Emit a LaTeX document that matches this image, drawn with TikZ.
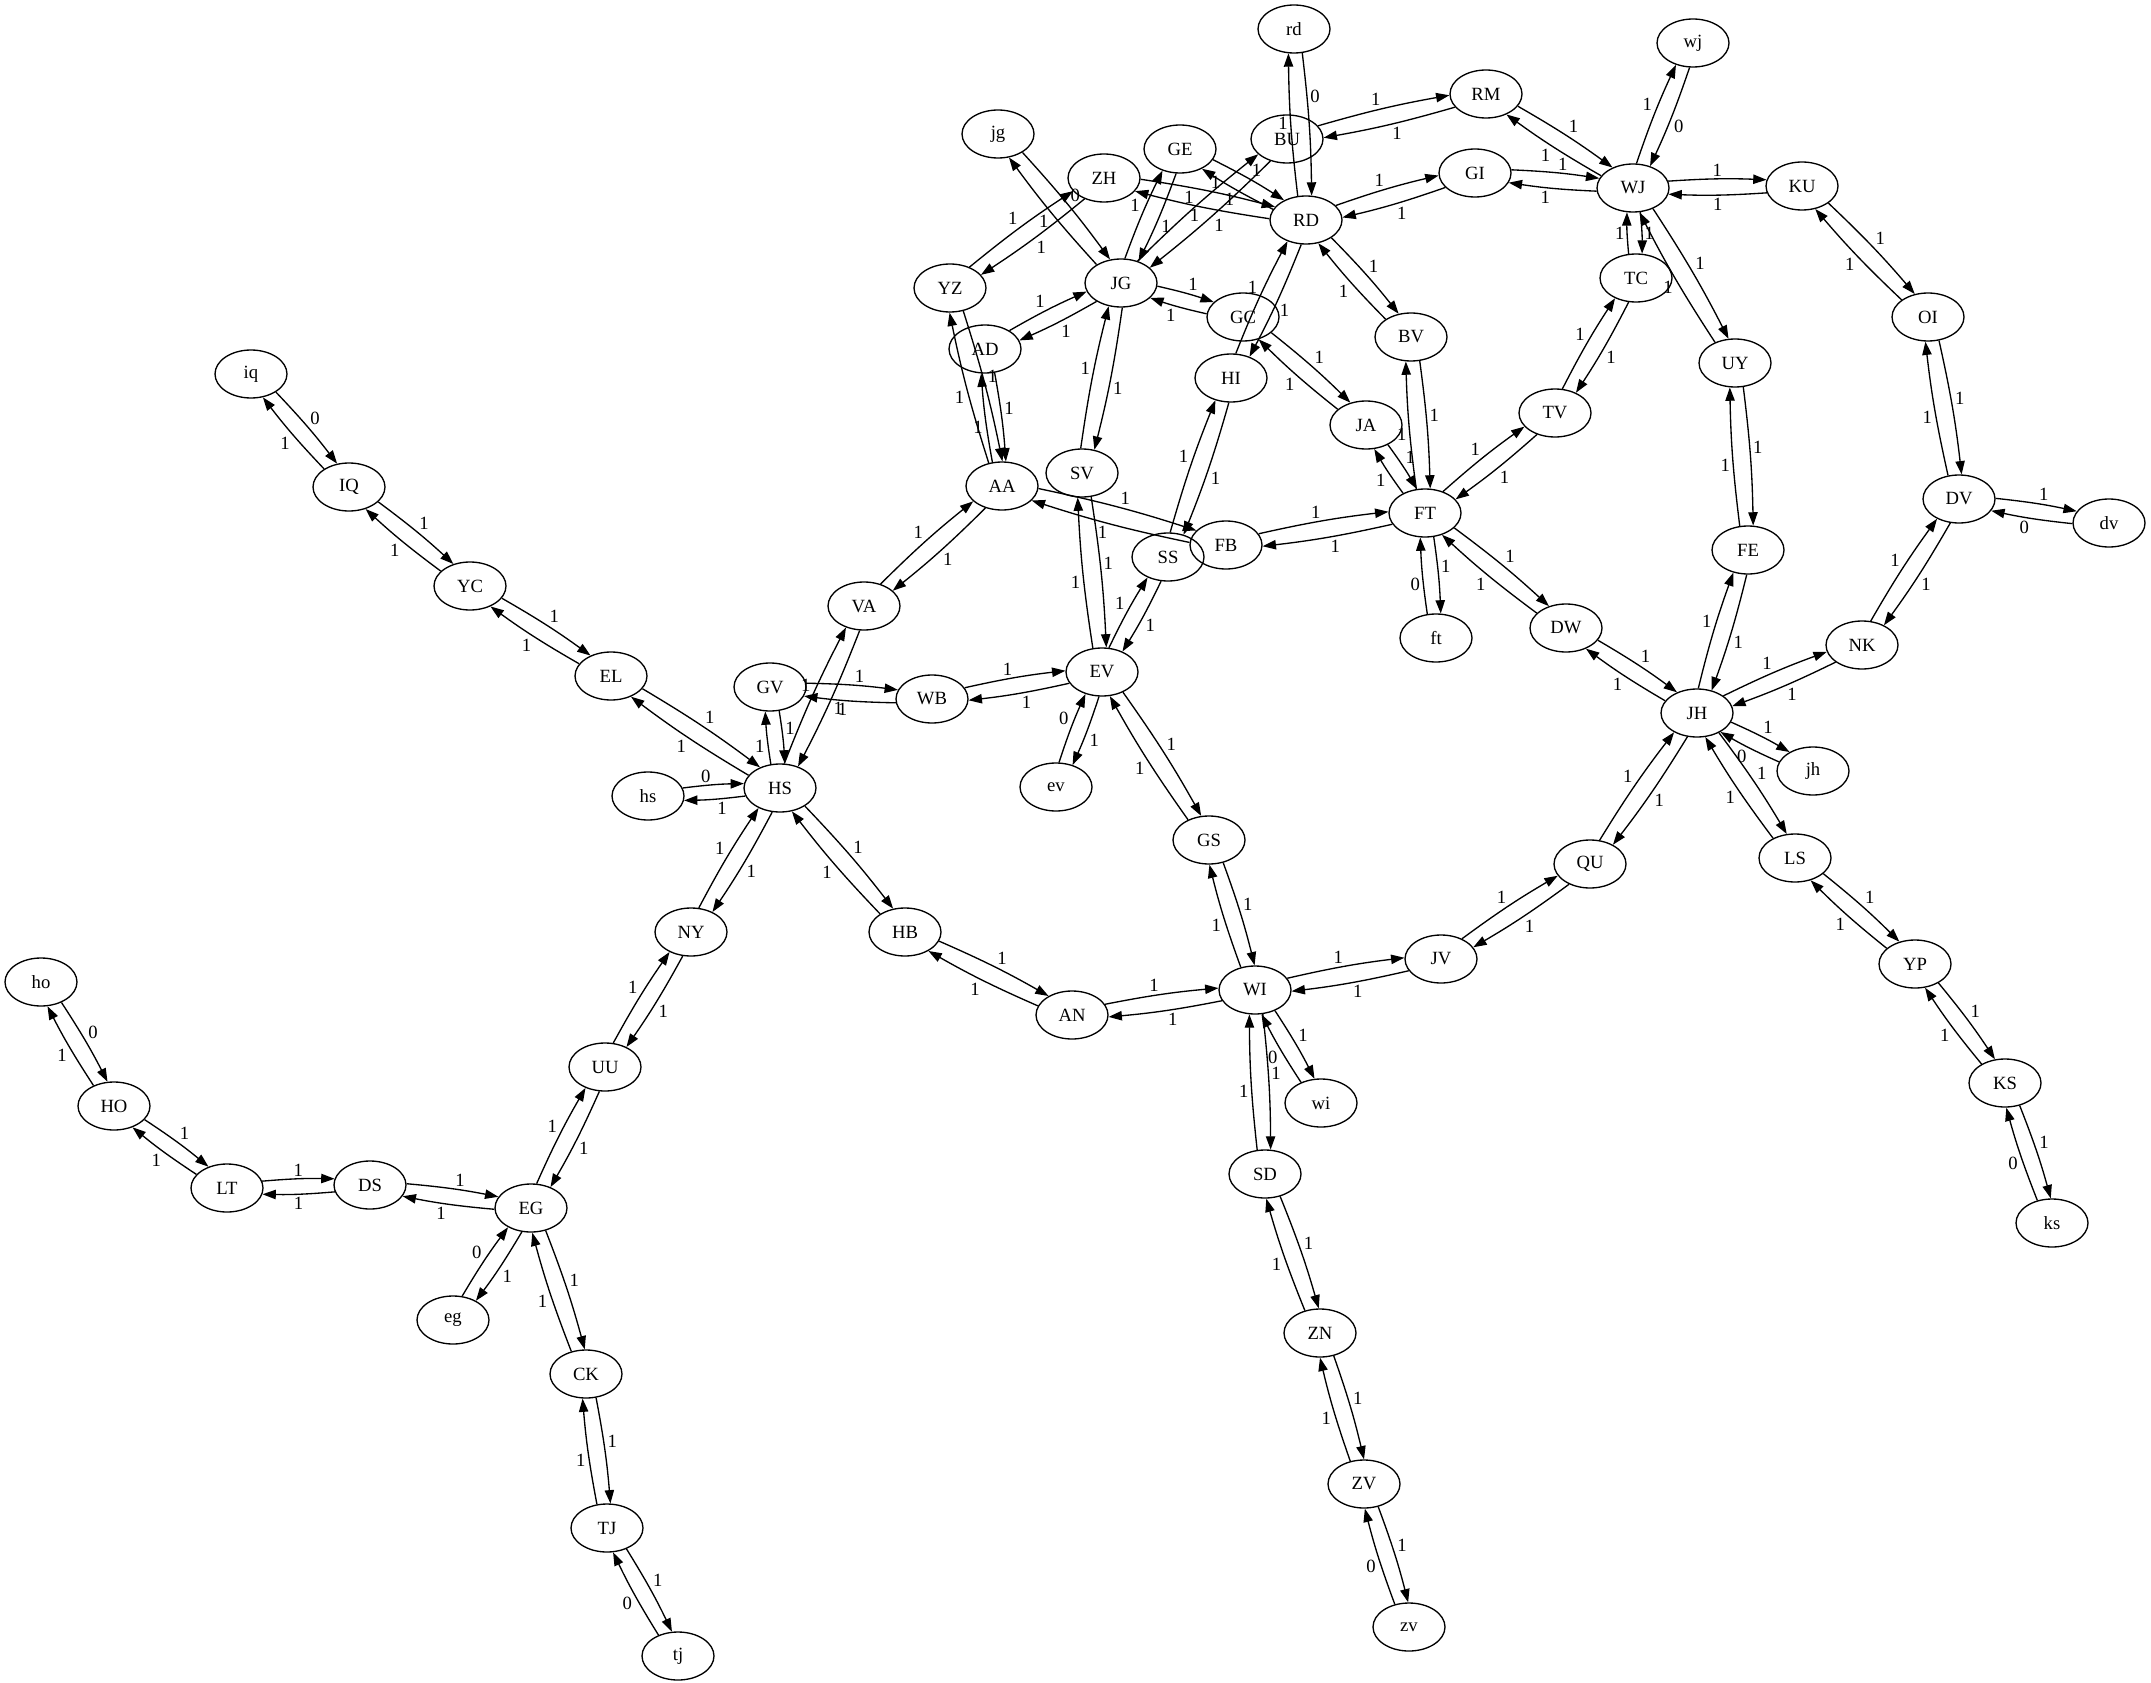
\documentclass[tikz,border=0pt]{standalone}
\usepackage{fontspec}
\setmainfont{Liberation Serif}
\usetikzlibrary{shapes.geometric,arrows.meta}
\newcommand\gvfont{\fontsize{14pt}{16pt}\selectfont}
\newcommand\nd[3]{%
  \node[vx] (#1) at (#2,-#3) {#1};%
  \expandafter\xdef\csname PX@#1\endcsname{#2}%
  \expandafter\xdef\csname PY@#1\endcsname{#3}%
}
\newcommand\de[4][0.5]{%
  \pgfmathsetmacro\eDX{\csname PX@#3\endcsname-\csname PX@#2\endcsname}%
  \pgfmathsetmacro\eDY{\csname PY@#2\endcsname-\csname PY@#3\endcsname}%
  \pgfmathsetmacro\eAng{atan2(\eDY,\eDX)}%
  \pgfmathsetmacro\eRad{864/sqrt((24*cos(\eAng))^2+(36*sin(\eAng))^2)}%
  \pgfmathsetmacro\ePhi{asin(6.5/\eRad)}%
  \pgfmathtruncatemacro\eSa{mod(\eAng+\ePhi+720,360)}%
  \pgfmathtruncatemacro\eEa{mod(\eAng+180-\ePhi+720,360)}%
  \draw[conn] (#2.\eSa) to[bend left=3] node[lbl,pos=#1]{#4} (#3.\eEa);%
}
\newcommand\epair[2]{\de{#1}{#2}{1}\de{#2}{#1}{1}}
\newcommand\elow[2]{\de{#1}{#2}{1}\de{#2}{#1}{0}}
\tikzset{
  vx/.style={draw, ellipse, minimum width=54pt, minimum height=36pt, inner sep=0pt, line width=1pt, font=\gvfont},
  conn/.style={line width=1pt, -{Triangle[length=10pt,width=7pt]}},
  lbl/.style={auto, inner sep=1.5pt, font=\gvfont},
}
\begin{document}
\begin{tikzpicture}[x=0.75pt,y=0.75pt]
\useasboundingbox (0,0) rectangle (2151,-1683);
\nd{rd}{1294}{29}
\nd{BU}{1287}{139}
\nd{jg}{998}{134}
\nd{GE}{1180}{149}
\nd{ZH}{1104}{178}
\nd{RD}{1306}{220}
\nd{YZ}{950}{288}
\nd{JG}{1121}{283}
\nd{GC}{1243}{317}
\nd{AD}{985}{349}
\nd{HI}{1231}{378}
\nd{BV}{1411}{337}
\nd{RM}{1486}{94}
\nd{wj}{1693}{43}
\nd{GI}{1475}{173}
\nd{WJ}{1633}{188}
\nd{TC}{1636}{278}
\nd{UY}{1735}{363}
\nd{TV}{1555}{413}
\nd{KU}{1802}{186}
\nd{OI}{1928}{317}
\nd{DV}{1959}{499}
\nd{dv}{2109}{523}
\nd{FE}{1748}{550}
\nd{NK}{1862}{645}
\nd{SV}{1082}{473}
\nd{AA}{1002}{486}
\nd{FB}{1226}{545}
\nd{SS}{1168}{557}
\nd{JA}{1366}{425}
\nd{FT}{1425}{513}
\nd{ft}{1436}{638}
\nd{DW}{1566}{628}
\nd{JH}{1697}{713}
\nd{jh}{1813}{771}
\nd{WB}{932}{699}
\nd{EV}{1102}{672}
\nd{ev}{1056}{787}
\nd{VA}{864}{606}
\nd{EL}{611}{676}
\nd{GV}{770}{687}
\nd{HS}{780}{788}
\nd{hs}{648}{796}
\nd{NY}{691}{932}
\nd{HB}{905}{932}
\nd{iq}{251}{374}
\nd{IQ}{349}{487}
\nd{YC}{470}{586}
\nd{ho}{41}{982}
\nd{HO}{114}{1106}
\nd{LT}{227}{1188}
\nd{DS}{370}{1185}
\nd{EG}{531}{1208}
\nd{UU}{605}{1067}
\nd{eg}{453}{1320}
\nd{GS}{1209}{840}
\nd{WI}{1255}{990}
\nd{JV}{1441}{959}
\nd{QU}{1590}{864}
\nd{LS}{1795}{858}
\nd{wi}{1321}{1103}
\nd{SD}{1265}{1174}
\nd{AN}{1072}{1015}
\nd{CK}{586}{1374}
\nd{TJ}{607}{1528}
\nd{tj}{678}{1656}
\nd{ZN}{1320}{1333}
\nd{ZV}{1364}{1484}
\nd{zv}{1409}{1627}
\nd{YP}{1915}{964}
\nd{KS}{2005}{1083}
\nd{ks}{2052}{1223}
% edges
\de[0.58]{RD}{rd}{1}
\de[0.36]{rd}{RD}{0}
\epair{BU}{RM}
\epair{RD}{GI}
\elow{JG}{jg}
\epair{YZ}{ZH}
\epair{GE}{JG}
\epair{GE}{RD}
\epair{ZH}{RD}
\epair{BU}{JG}
\epair{JG}{GC}
\epair{JG}{AD}
\epair{JG}{SV}
\epair{RD}{HI}
\epair{RD}{BV}
\epair{GC}{JA}
\epair{BV}{FT}
\epair{YZ}{AA}
\epair{AD}{AA}
\epair{HI}{SS}
\epair{RM}{WJ}
\epair{GI}{WJ}
\elow{WJ}{wj}
\epair{WJ}{KU}
\epair{WJ}{TC}
\epair{WJ}{UY}
\epair{TC}{TV}
\epair{UY}{FE}
\epair{AA}{VA}
\epair{AA}{FB}
\epair{SV}{EV}
\epair{SS}{EV}
\epair{FB}{FT}
\epair{JA}{FT}
\elow{FT}{ft}
\epair{EV}{WB}
\elow{EV}{ev}
\epair{EV}{GS}
\epair{FT}{TV}
\epair{FT}{DW}
\epair{FE}{JH}
\epair{DW}{JH}
\epair{JH}{NK}
\epair{NK}{DV}
\elow{JH}{jh}
\epair{JH}{QU}
\epair{JH}{LS}
\epair{VA}{HS}
\epair{GV}{WB}
\epair{GV}{HS}
\epair{EL}{HS}
\elow{HS}{hs}
\epair{NY}{HS}
\epair{HS}{HB}
\epair{HB}{AN}
\elow{IQ}{iq}
\epair{IQ}{YC}
\epair{YC}{EL}
\elow{HO}{ho}
\epair{HO}{LT}
\epair{LT}{DS}
\epair{DS}{EG}
\epair{EG}{UU}
\epair{UU}{NY}
\elow{EG}{eg}
\epair{EG}{CK}
\epair{CK}{TJ}
\elow{TJ}{tj}
\epair{KU}{OI}
\epair{OI}{DV}
\elow{DV}{dv}
\epair{GS}{WI}
\epair{WI}{JV}
\epair{JV}{QU}
\epair{WI}{AN}
\elow{WI}{wi}
\epair{WI}{SD}
\epair{SD}{ZN}
\epair{ZN}{ZV}
\elow{ZV}{zv}
\epair{LS}{YP}
\epair{YP}{KS}
\elow{KS}{ks}
\end{tikzpicture}
\end{document}
